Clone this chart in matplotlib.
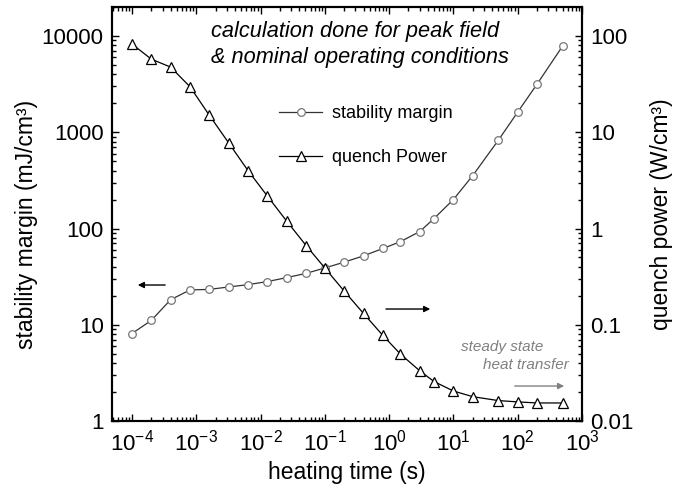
import matplotlib
matplotlib.use("Agg")
import matplotlib.pyplot as plt
from matplotlib.lines import Line2D
from matplotlib.ticker import LogLocator, FuncFormatter, NullFormatter, LogFormatterSciNotation

plt.rcParams['font.family'] = ['Liberation Sans', 'DejaVu Sans']
plt.rcParams['mathtext.fontset'] = 'custom'
plt.rcParams['mathtext.rm'] = 'Liberation Sans'
plt.rcParams['mathtext.it'] = 'Liberation Sans:italic'

# heating time (s)
heating_time = [1e-4, 2e-4, 4e-4, 8e-4, 1.6e-3, 3.2e-3, 6.4e-3, 1.28e-2, 2.56e-2,
                5.12e-2, 0.1, 0.2, 0.4, 0.8, 1.5, 3, 5, 10, 20, 50, 100, 200, 500]
# stability margin (mJ/cm3)
stability_margin = [8.1, 11.1, 18.2, 23.0, 23.3, 24.7, 26.1, 28.1, 30.9, 34.2, 38.9,
                    44.7, 52, 62, 73, 93, 127, 200, 355, 826, 1620, 3160, 7870]
# quench power (W/cm3)
quench_power = [82.6, 57.5, 47.5, 29.7, 15.0, 7.74, 3.99, 2.17, 1.19, 0.665, 0.389,
                0.224, 0.131, 0.0774, 0.0496, 0.0332, 0.0257, 0.0205, 0.0179,
                0.0163, 0.0158, 0.0154, 0.0154]
x_decades = [10.0 ** k for k in range(-4, 4)]

fig = plt.figure(figsize=(6.94, 4.87), dpi=100)
ax = fig.add_axes([0.1614, 0.1355, 0.6772, 0.8501])
ax2 = ax.twinx()

circ_style = dict(color='#333333', lw=0.9, marker='o', ms=5.5, mfc='white',
                  mec='#777777', mew=0.9)
tri_style = dict(color='black', lw=0.9, marker='^', ms=7, mfc='white',
                 mec='black', mew=0.9)

ax.plot(heating_time, stability_margin, zorder=3, **circ_style)
ax2.plot(heating_time, quench_power, zorder=3, **tri_style)

ax.set_xscale('log')
ax.set_yscale('log')
ax2.set_yscale('log')
ax.set_xlim(4.9e-5, 1e3)
ax.set_ylim(1, 20000)
ax2.set_ylim(0.01, 200)

fmt = FuncFormatter(lambda v, p: '%g' % v)
ax.yaxis.set_major_locator(LogLocator(base=10, numticks=10))
ax.yaxis.set_major_formatter(fmt)
ax.yaxis.set_minor_formatter(NullFormatter())
ax2.yaxis.set_major_locator(LogLocator(base=10, numticks=10))
ax2.yaxis.set_major_formatter(fmt)
ax2.yaxis.set_minor_formatter(NullFormatter())
ax.set_xticks(x_decades)
ax.xaxis.set_major_formatter(LogFormatterSciNotation())
ax.xaxis.set_minor_locator(LogLocator(base=10, subs=range(2, 10), numticks=12))
ax.xaxis.set_minor_formatter(NullFormatter())
ax.set_xlim(4.9e-5, 1e3)

ax.tick_params(which='both', direction='in', top=True, right=False, labelsize=16, width=1)
ax.tick_params(which='major', length=5, pad=6)
ax.tick_params(which='minor', length=3)
ax2.tick_params(which='both', direction='in', labelsize=16, width=1)
ax2.tick_params(which='major', length=5, pad=6)
ax2.tick_params(which='minor', length=3)

for a in (ax, ax2):
    for s in a.spines.values():
        s.set_linewidth(1.5)

ax.set_xlabel('heating time (s)', fontsize=16.5, labelpad=4)
ax.set_ylabel('stability margin (mJ/cm³)', fontsize=16.5)
ax.yaxis.set_label_coords(-0.158, 0.476)
ax2.set_ylabel('quench power (W/cm³)', fontsize=16.5, labelpad=12)

ax.text(0.2106, 0.94, 'calculation done for peak field', transform=ax.transAxes,
        fontsize=15.7, style='italic', ha='left', va='center')
ax.text(0.2106, 0.877, '& nominal operating conditions', transform=ax.transAxes,
        fontsize=15.7, style='italic', ha='left', va='center')

handles = [Line2D([], [], **circ_style), Line2D([], [], **tri_style)]
ax2.legend(handles, ['stability margin', 'quench Power'], loc='center left',
           bbox_to_anchor=(0.3553, 0.6896), frameon=False, fontsize=13,
           borderpad=0, borderaxespad=0, labelspacing=1.5, handlelength=2.4,
           handletextpad=0.55)

arrow_k = dict(arrowstyle='-|>', color='black', lw=1.0, mutation_scale=9)
ax.annotate('', xy=(0.049, 0.3285), xytext=(0.119, 0.3285),
            xycoords='axes fraction', arrowprops=arrow_k)
ax.annotate('', xy=(0.683, 0.2705), xytext=(0.577, 0.2705),
            xycoords='axes fraction', arrowprops=arrow_k)
ax.annotate('', xy=(0.968, 0.0845), xytext=(0.851, 0.0845),
            xycoords='axes fraction',
            arrowprops=dict(arrowstyle='-|>', color='#808080', lw=1.0, mutation_scale=9))

ax.text(0.917, 0.179, 'steady state', transform=ax.transAxes, fontsize=11,
        style='italic', color='#808080', ha='right', va='center')
ax.text(0.972, 0.135, 'heat transfer', transform=ax.transAxes, fontsize=11,
        style='italic', color='#808080', ha='right', va='center')

fig.savefig('out.png', dpi=100)
